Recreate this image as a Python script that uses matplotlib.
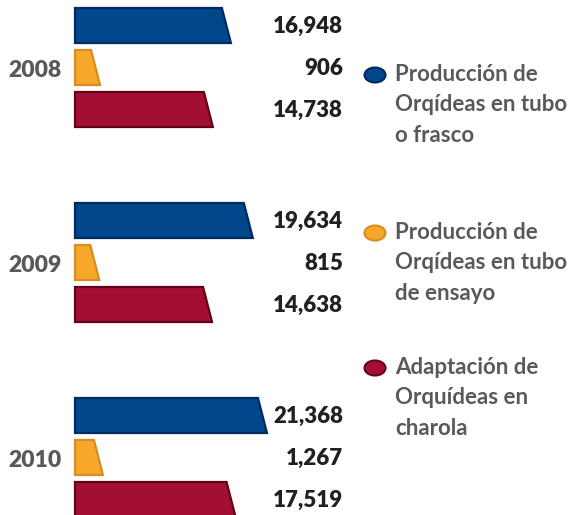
"""Orchid production by year: slanted horizontal bars with side legend."""

import matplotlib.pyplot as plt
from matplotlib.patches import Ellipse, Polygon

YEARS = ["2008", "2009", "2010"]
SERIES = [
    "Producción de\nOrqídeas en tubo\no frasco",
    "Producción de\nOrqídeas en tubo\nde ensayo",
    "Adaptación de\nOrquídeas en\ncharola",
]
VALUES = {
    "2008": [16948, 906, 14738],
    "2009": [19634, 815, 14638],
    "2010": [21368, 1267, 17519],
}
FILL_COLORS = ["#00468B", "#F6A82B", "#A30F34"]
EDGE_COLORS = ["#002B5E", "#D98B1F", "#640017"]

W, H = 575, 515
PX_PER_UNIT = 0.00816
ORIGIN_PX = 75
OFFSET = 2157          # axis starts below zero so the small bars stay visible
SLANT_PX = 9
BAR_H = 35
GROUP_STEP = 195
ROW_STEP = 42
FIRST_TOP = 8

plt.rcParams["font.family"] = ["Lato", "DejaVu Sans"]


def px_to_x(px):
    return (px - ORIGIN_PX) / PX_PER_UNIT - OFFSET


fig = plt.figure(figsize=(W / 100, H / 100), dpi=100)
ax = fig.add_axes([0, 0, 1, 1])
ax.set_xlim(px_to_x(0), px_to_x(W))
ax.set_ylim(H, 0)
ax.axis("off")

slant = SLANT_PX / PX_PER_UNIT
base = -OFFSET
for g, year in enumerate(YEARS):
    for s, value in enumerate(VALUES[year]):
        top = FIRST_TOP + g * GROUP_STEP + s * ROW_STEP
        bottom = top + BAR_H
        verts = [(base, top), (value - slant, top), (value, bottom), (base, bottom)]
        ax.add_patch(Polygon(verts, closed=True, facecolor=FILL_COLORS[s],
                             edgecolor=EDGE_COLORS[s], linewidth=1.6, joinstyle="miter"))
        ax.text(px_to_x(343), (top + bottom) / 2 + 1, f"{value:,}", ha="right", va="center",
                fontsize=16, fontweight="heavy", color="#231F20")
    mid = FIRST_TOP + g * GROUP_STEP + ROW_STEP + BAR_H / 2 + 3
    ax.text(px_to_x(62), mid, year, ha="right", va="center",
            fontsize=16.5, fontweight="heavy", color="#58595B")

legend_tops = [75, 233, 368]
for s, label in enumerate(SERIES):
    cy = legend_tops[s]
    fig.add_artist(Ellipse((375 / W, 1 - cy / H), 21 / W, 15 / H, transform=fig.transFigure,
                           facecolor=FILL_COLORS[s], edgecolor=EDGE_COLORS[s], linewidth=1.5))
    fig.text(395 / W, 1 - (cy - 11) / H, label, ha="left", va="top", fontsize=16,
             fontweight="bold", color="#58595B", linespacing=1.55)

fig.savefig("out.png", dpi=100)
